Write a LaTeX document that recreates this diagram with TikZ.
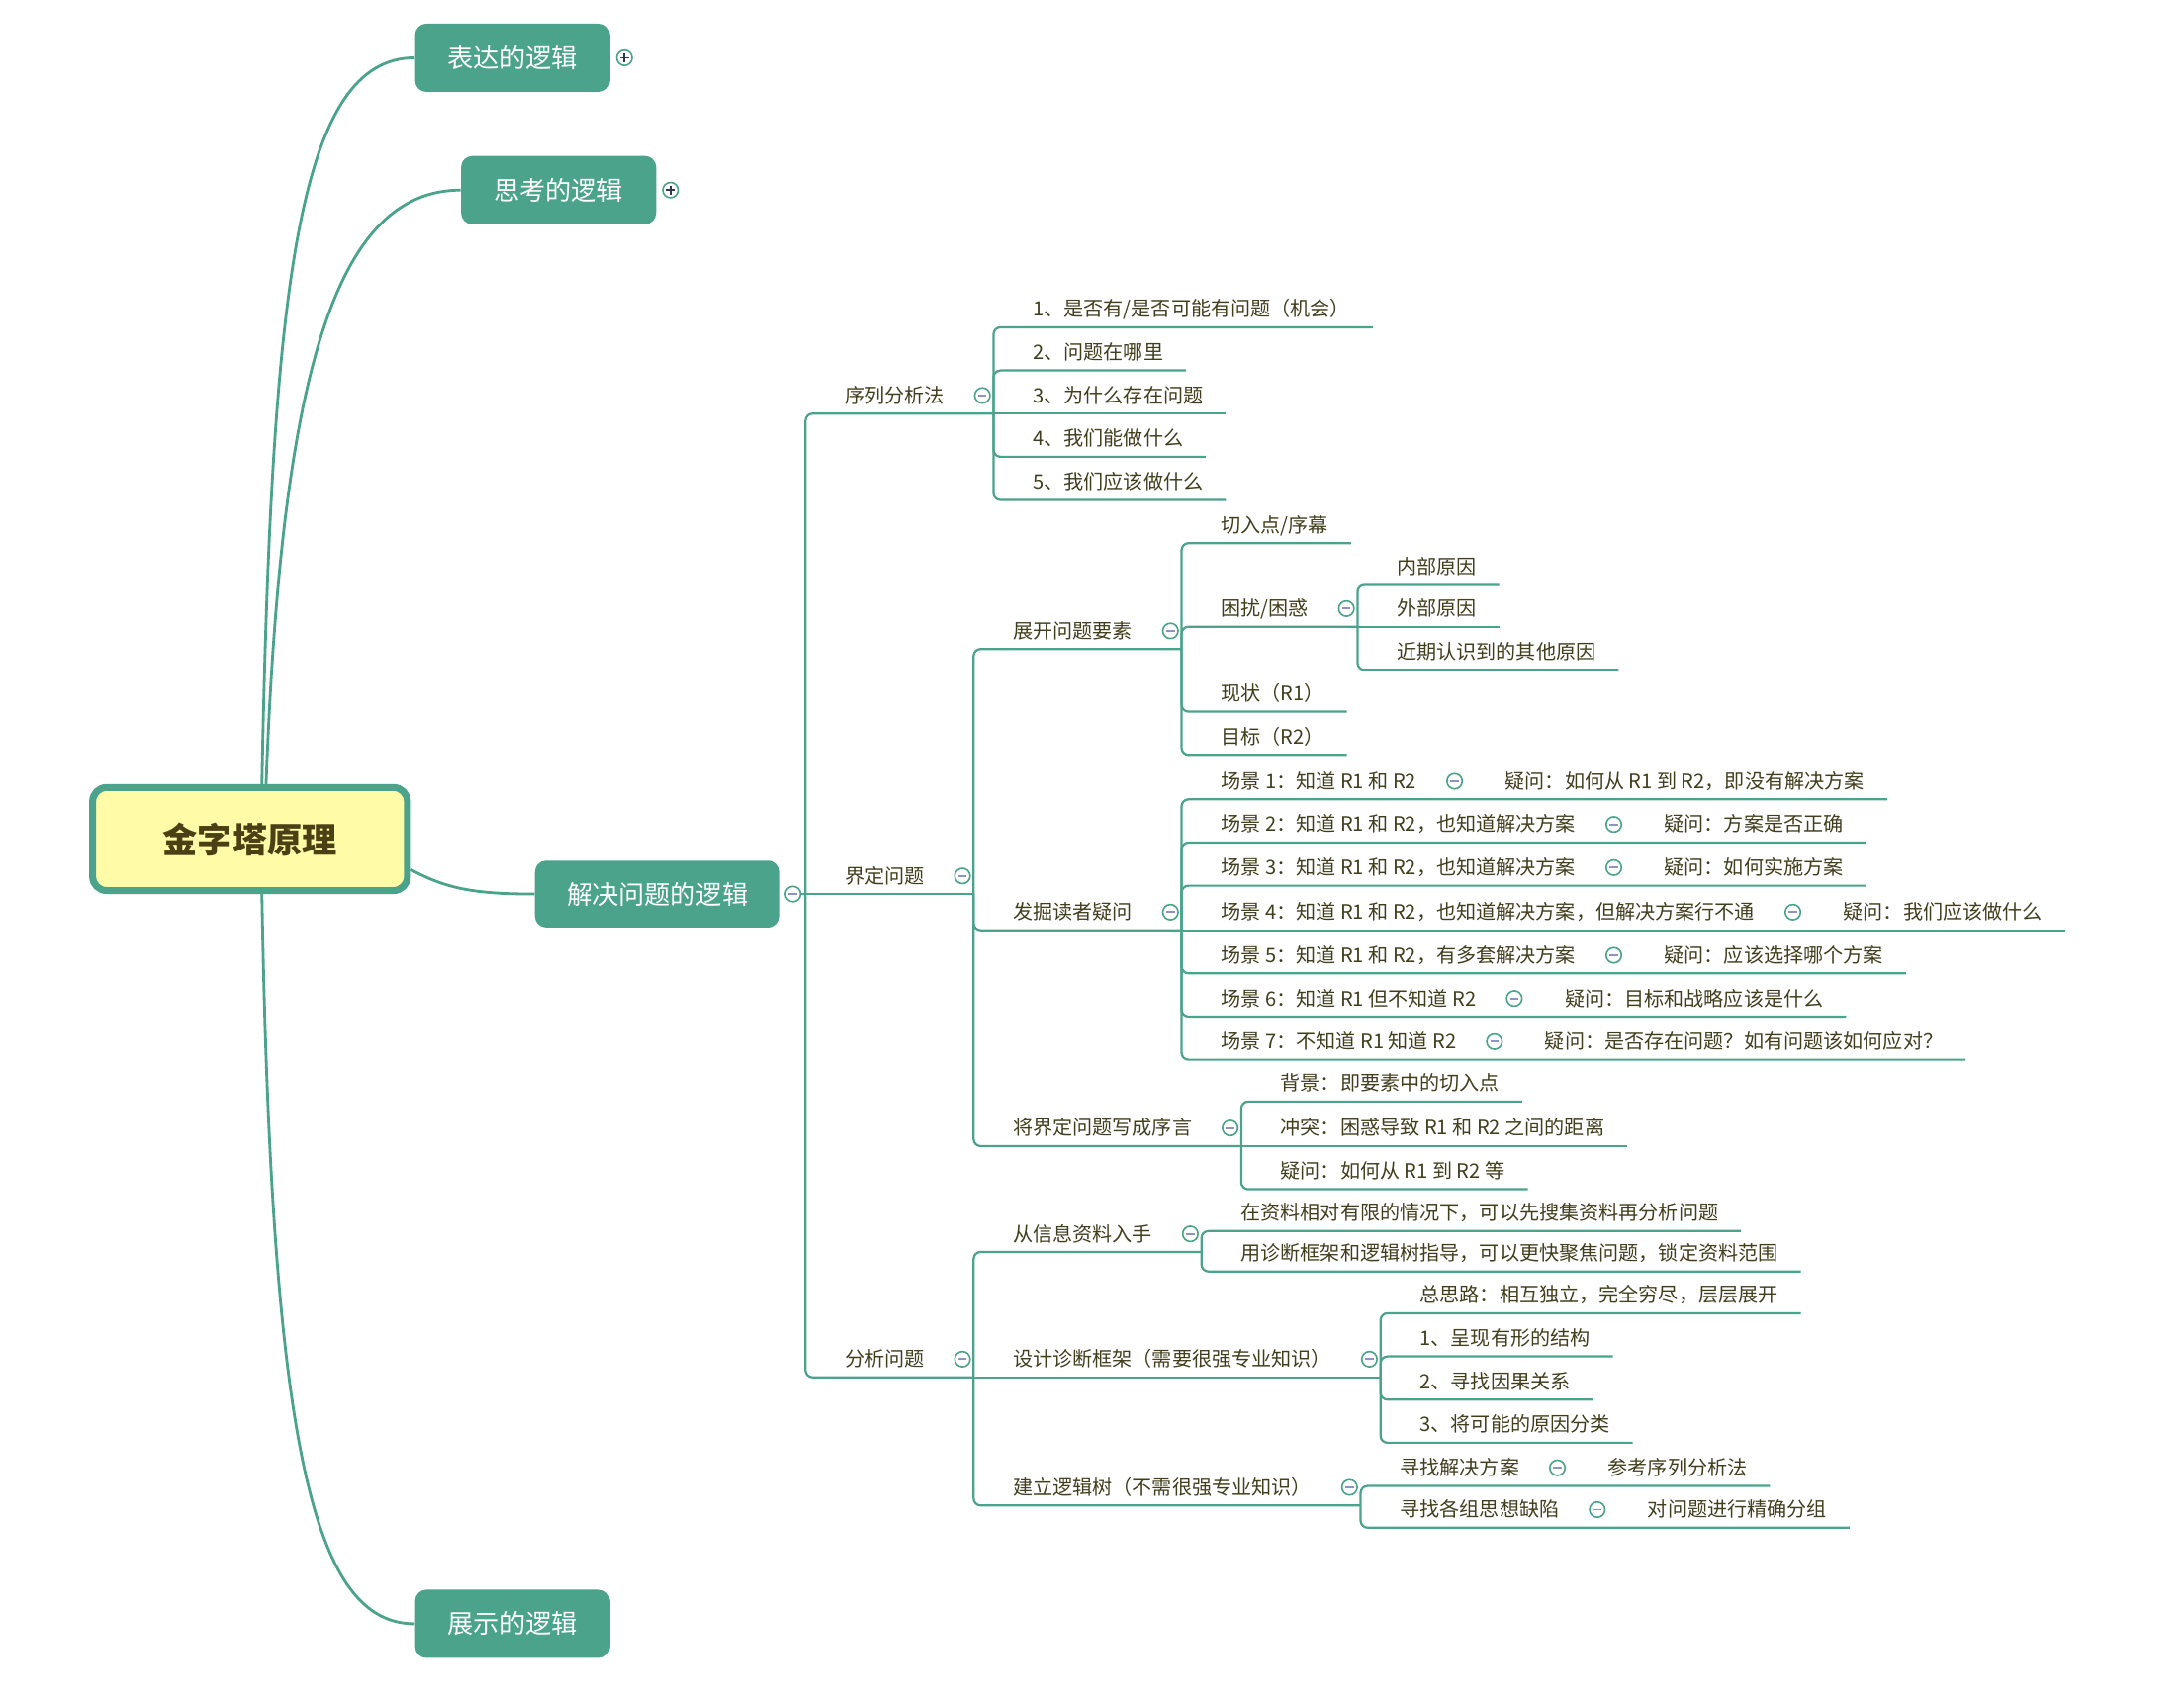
\documentclass[tikz,border=0pt]{standalone}
\usepackage{fontspec}
\newfontfamily\cjk{Noto Sans CJK SC}
\usetikzlibrary{calc}
\definecolor{tl}{HTML}{4AA38A}
\definecolor{txt}{HTML}{413E1E}
\definecolor{ctxt}{HTML}{4A4014}
\definecolor{cfill}{HTML}{FFFBA6}
\definecolor{minc}{HTML}{8F92C4}
\definecolor{plusc}{HTML}{2E3553}
\tikzset{
  conn/.style={draw=tl, line width=1.1pt, rounded corners=3.5pt},
  curve/.style={draw=tl, line width=1.4pt},
  leaf/.style={font=\cjk\fontsize{10}{12}\selectfont, text=txt, anchor=south west, inner xsep=11.2pt, inner ysep=3.25pt, text height=8pt, text depth=2pt, execute at begin node={\hspace*{8.4pt}}},
  topic/.style={fill=tl, rounded corners=5.6pt, text=white, font=\cjk\fontsize{13}{15}\selectfont, minimum width=98pt, minimum height=34.3pt, inner sep=0pt},
  central/.style={draw=tl, line width=3.5pt, fill=cfill, rounded corners=7pt, minimum width=158.2pt, minimum height=51.8pt, text=ctxt, font=\cjk\bfseries\fontsize{17.5}{20}\selectfont},
  btn/.style={circle, draw=tl, fill=white, line width=0.8pt, minimum size=7.7pt, inner sep=0pt},
  minbtn/.style={btn, path picture={\draw[minc, line width=0.9pt] ([xshift=-2.1pt]path picture bounding box.center) -- ([xshift=2.1pt]path picture bounding box.center);}},
  plusbtn/.style={btn, path picture={\draw[plusc, line width=0.9pt] ([xshift=-2.3pt]path picture bounding box.center) -- ([xshift=2.3pt]path picture bounding box.center) ([yshift=-2.3pt]path picture bounding box.center) -- ([yshift=2.3pt]path picture bounding box.center);}},
}
\begin{document}
\begin{tikzpicture}[x=0.7pt,y=-0.7pt]
\useasboundingbox (0,0) rectangle (1568,1220);
% central and main topics
\node[central] (c) at (179.5,602.5) {金字塔原理};
\node[topic] (bd) at (368,41.5) {表达的逻辑};
\node[topic] (sk) at (401,136.5) {思考的逻辑};
\node[topic, minimum width=123.2pt, minimum height=33.6pt] (jj) at (472,642) {解决问题的逻辑};
\node[topic] (zs) at (368,1166) {展示的逻辑};
\draw[curve] ($(c.north)+(8.5,0)$) .. controls (195,200) and (215,41.5) .. (bd.west);
\draw[curve] ($(c.north)+(11.5,0)$) .. controls (202,270) and (240,136.5) .. (sk.west);
\draw[curve] ($(c.south)+(8.5,0)$) .. controls (195,1040) and (225,1166) .. (zs.west);
\draw[curve] ($(c.east)+(0,22)$) .. controls (320,638) and (340,642) .. (jj.west);
\node[plusbtn] (pb) at ($(bd.east)+(10,0)$) {};
\node[plusbtn] (ps) at ($(sk.east)+(10,0)$) {};
\node[minbtn] (mj) at ($(jj.east)+(9,0)$) {};
\coordinate (T0) at ($(jj.east)+(18,0)$);
\draw[conn] (mj.east) -- (T0);
% level 2
\node[leaf] (xl) at (T0 |- 0,297) {序列分析法};
\coordinate (xlT) at ($(xl.south east)+(19,0)$);
\draw[conn] (T0) |- (xlT);
\node[leaf] (jd) at (T0) {界定问题};
\coordinate (jdT) at ($(jd.south east)+(19,0)$);
\draw[conn] (T0) -- (jdT);
\node[leaf] (fx) at (T0 |- 0,989) {分析问题};
\coordinate (fxT) at ($(fx.south east)+(19,0)$);
\draw[conn] (T0) |- (fxT);
% 序列分析法
\node[leaf] (x1) at (xlT |- 0,235) {1、是否有/是否可能有问题（机会）};
\node[leaf] (x2) at (xlT |- 0,266) {2、问题在哪里};
\node[leaf] (x3) at (xlT) {3、为什么存在问题};
\node[leaf] (x4) at (xlT |- 0,328) {4、我们能做什么};
\node[leaf] (x5) at (xlT |- 0,359) {5、我们应该做什么};
\draw[conn] (xlT) |- (x1.south east);
\draw[conn] (xlT) |- (x2.south east);
\draw[conn] (xlT) -- (x3.south east);
\draw[conn] (xlT) |- (x4.south east);
\draw[conn] (xlT) |- (x5.south east);
% 界定问题
\node[leaf] (zk) at (jdT |- 0,466) {展开问题要素};
\coordinate (zkT) at ($(zk.south east)+(19,0)$);
\draw[conn] (jdT) |- (zkT);
\node[leaf] (fj) at (jdT |- 0,668) {发掘读者疑问};
\coordinate (fjT) at ($(fj.south east)+(19,0)$);
\draw[conn] (jdT) |- (fjT);
\node[leaf] (xy) at (jdT |- 0,823) {将界定问题写成序言};
\coordinate (xyT) at ($(xy.south east)+(19,0)$);
\draw[conn] (jdT) |- (xyT);
% 展开问题要素
\node[leaf] (k1) at (zkT |- 0,390) {切入点/序幕};
\node[leaf] (kr) at (zkT |- 0,450) {困扰/困惑};
\coordinate (krT) at ($(kr.south east)+(19,0)$);
\node[leaf] (k3) at (zkT |- 0,511) {现状（R1）};
\node[leaf] (k4) at (zkT |- 0,542) {目标（R2）};
\draw[conn] (zkT) |- (k1.south east);
\draw[conn] (zkT) |- (krT);
\draw[conn] (zkT) |- (k3.south east);
\draw[conn] (zkT) |- (k4.south east);
\node[leaf] (r1) at (krT |- 0,420) {内部原因};
\node[leaf] (r2) at (krT) {外部原因};
\node[leaf] (r3) at (krT |- 0,481) {近期认识到的其他原因};
\draw[conn] (krT) |- (r1.south east);
\draw[conn] (krT) -- (r2.south east);
\draw[conn] (krT) |- (r3.south east);
% 发掘读者疑问
\node[leaf] (s1) at (fjT |- 0,574) {场景 1：知道 R1 和 R2};
\node[leaf] (s1q) at ($(s1.south east)+(19,0)$) {疑问：如何从 R1 到 R2，即没有解决方案};
\node[leaf] (s2) at (fjT |- 0,605) {场景 2：知道 R1 和 R2，也知道解决方案};
\node[leaf] (s2q) at ($(s2.south east)+(19,0)$) {疑问：方案是否正确};
\node[leaf] (s3) at (fjT |- 0,636) {场景 3：知道 R1 和 R2，也知道解决方案};
\node[leaf] (s3q) at ($(s3.south east)+(19,0)$) {疑问：如何实施方案};
\node[leaf] (s4) at (fjT) {场景 4：知道 R1 和 R2，也知道解决方案，但解决方案行不通};
\node[leaf] (s4q) at ($(s4.south east)+(19,0)$) {疑问：我们应该做什么};
\node[leaf] (s5) at (fjT |- 0,699) {场景 5：知道 R1 和 R2，有多套解决方案};
\node[leaf] (s5q) at ($(s5.south east)+(19,0)$) {疑问：应该选择哪个方案};
\node[leaf] (s6) at (fjT |- 0,730) {场景 6：知道 R1 但不知道 R2};
\node[leaf] (s6q) at ($(s6.south east)+(19,0)$) {疑问：目标和战略应该是什么};
\node[leaf] (s7) at (fjT |- 0,761) {场景 7：不知道 R1 知道 R2};
\node[leaf] (s7q) at ($(s7.south east)+(19,0)$) {疑问：是否存在问题？如有问题该如何应对？};
\draw[conn] (fjT) |- (s1q.south east);
\draw[conn] (fjT) |- (s2q.south east);
\draw[conn] (fjT) |- (s3q.south east);
\draw[conn] (fjT) -- (s4q.south east);
\draw[conn] (fjT) |- (s5q.south east);
\draw[conn] (fjT) |- (s6q.south east);
\draw[conn] (fjT) |- (s7q.south east);
% 将界定问题写成序言
\node[leaf] (y1) at (xyT |- 0,791) {背景：即要素中的切入点};
\node[leaf] (y2) at (xyT) {冲突：困惑导致 R1 和 R2 之间的距离};
\node[leaf] (y3) at (xyT |- 0,854) {疑问：如何从 R1 到 R2 等};
\draw[conn] (xyT) |- (y1.south east);
\draw[conn] (xyT) -- (y2.south east);
\draw[conn] (xyT) |- (y3.south east);
% 分析问题
\node[leaf] (cx) at (fxT |- 0,899) {从信息资料入手};
\coordinate (cxT) at ($(cx.south east)+(19,0)$);
\draw[conn] (fxT) |- (cxT);
\node[leaf] (sj) at (fxT) {设计诊断框架（需要很强专业知识）};
\coordinate (sjT) at ($(sj.south east)+(19,0)$);
\draw[conn] (fxT) -- (sjT);
\node[leaf] (jl) at (fxT |- 0,1081) {建立逻辑树（不需很强专业知识）};
\coordinate (jlT) at ($(jl.south east)+(19,0)$);
\draw[conn] (fxT) |- (jlT);
\node[leaf] (c1) at (cxT |- 0,884) {在资料相对有限的情况下，可以先搜集资料再分析问题};
\node[leaf] (c2) at (cxT |- 0,913) {用诊断框架和逻辑树指导，可以更快聚焦问题，锁定资料范围};
\draw[conn] (cxT) |- (c1.south east);
\draw[conn] (cxT) |- (c2.south east);
\node[leaf] (d0) at (sjT |- 0,943) {总思路：相互独立，完全穷尽，层层展开};
\node[leaf] (d1) at (sjT |- 0,974) {1、呈现有形的结构};
\node[leaf] (d2) at (sjT |- 0,1005) {2、寻找因果关系};
\node[leaf] (d3) at (sjT |- 0,1036) {3、将可能的原因分类};
\draw[conn] (sjT) |- (d0.south east);
\draw[conn] (sjT) |- (d1.south east);
\draw[conn] (sjT) |- (d2.south east);
\draw[conn] (sjT) |- (d3.south east);
\node[leaf] (l1) at (jlT |- 0,1067) {寻找解决方案};
\node[leaf] (l1q) at ($(l1.south east)+(19,0)$) {参考序列分析法};
\node[leaf] (l2) at (jlT |- 0,1097) {寻找各组思想缺陷};
\node[leaf] (l2q) at ($(l2.south east)+(19,0)$) {对问题进行精确分组};
\draw[conn] (jlT) |- (l1q.south east);
\draw[conn] (jlT) |- (l2q.south east);
% collapse buttons
\foreach \n in {xl,jd,fx,zk,fj,xy,kr,s1,s2,s3,s4,s5,s6,s7,cx,sj,jl,l1,l2}
  \node[minbtn] (m\n) at ($(\n.south east)+(11,-13)$) {};
\end{tikzpicture}
\end{document}
